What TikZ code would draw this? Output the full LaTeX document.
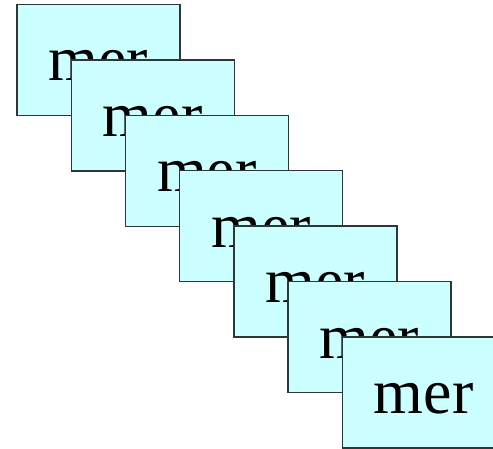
\documentclass[tikz,border=0pt]{standalone}
\usepackage{fontspec}
\setmainfont{Liberation Serif}
\definecolor{mercyan}{RGB}{204,255,255}
\definecolor{merline}{RGB}{45,55,55}

\begin{document}
\begin{tikzpicture}[x=1pt,y=-1pt,
  merbox/.style={draw=merline,fill=mercyan,line width=1.4pt,rectangle,
    minimum width=163pt,minimum height=111pt,inner sep=0pt,
    text height=60pt,text depth=18pt,font=\fontsize{64}{64}\selectfont}]
\clip (0,0) rectangle (493,449);
\useasboundingbox (0,0) rectangle (493,449);
\foreach \i in {0,...,6} {
  \node[merbox] (mer\i) at ({98.5+54.2*\i},{60+55.4*\i}) {mer};
}
\end{tikzpicture}
\end{document}
